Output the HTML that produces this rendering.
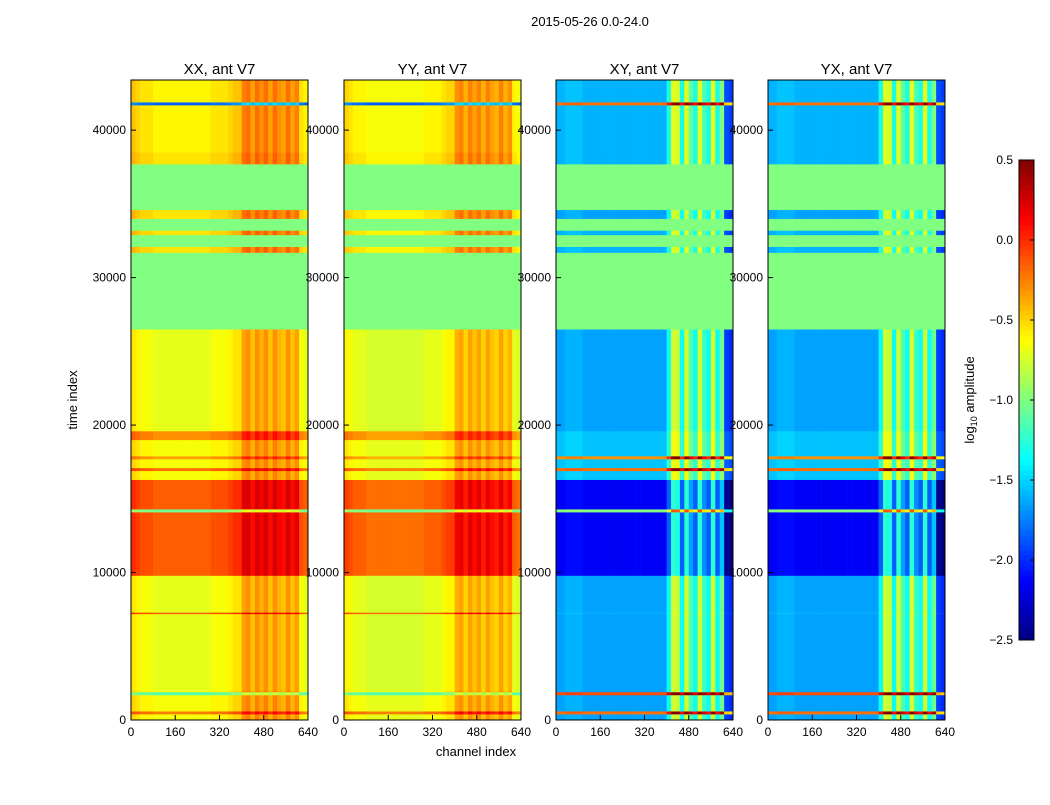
<!DOCTYPE html>
<html><head><meta charset="utf-8">
<style>
body{margin:0;background:#fff;}
svg text{font-family:"Liberation Sans",sans-serif;fill:#000;}
</style></head>
<body>
<svg id="fig" width="1050" height="800" viewBox="0 0 1050 800">
<rect width="1050" height="800" fill="#fff"/>
<text x="590" y="26" font-size="13" text-anchor="middle">2015-05-26 0.0-24.0</text>
<text x="476" y="756" font-size="13" text-anchor="middle">channel index</text>
<text transform="translate(77,400) rotate(-90)" font-size="13" text-anchor="middle">time index</text>
<text transform="translate(974,400) rotate(-90)" font-size="13" text-anchor="middle">log<tspan font-size="9" dy="3">10</tspan><tspan dy="-3"> amplitude</tspan></text>
<g id="panels"></g>
<g id="cbar"></g>
</svg>
<script>
// ---- data ----
const panelTitles = ["XX, ant V7","YY, ant V7","XY, ant V7","YX, ant V7"];
const segStart = [0,400,600,1700,1900,2000,7200,7300,9800,14100,14300,16300,16900,17100,17700,17900,19000,19600,26500,31700,32100,32900,33200,34000,34600,37700,38500,41700,41900];
const segEnd   = [400,600,1700,1900,2000,7200,7300,9800,14100,14300,16300,16900,17100,17700,17900,19000,19600,26500,31700,32100,32900,33200,34000,34600,37700,38500,41700,41900,43400];
const segFlagged=[0,0,0,0,0,0,0,0,0,0,0,0,0,0,0,0,0,0,1,0,1,0,1,0,1,0,0,0,0];
const xxVal = [-0.6,-0.2,-0.6,-1.1,-0.6,-0.65,-0.1,-0.65,-0.1,-1.0,-0.1,-0.6,-0.15,-0.6,-0.3,-0.6,-0.25,-0.65,-1.0,-0.5,-1.0,-0.5,-1.0,-0.5,-1.0,-0.5,-0.55,-1.8,-0.55];
const yyVal = [-0.65,-0.2,-0.65,-1.1,-0.65,-0.7,-0.15,-0.7,-0.15,-1.0,-0.15,-0.65,-0.2,-0.65,-0.35,-0.65,-0.3,-0.7,-1.0,-0.55,-1.0,-0.55,-1.0,-0.55,-1.0,-0.55,-0.6,-1.8,-0.6];
const xyVal = [-1.65,-0.2,-1.65,-0.1,-1.65,-1.65,-1.6,-1.65,-2.15,-1.0,-2.15,-1.55,-0.2,-1.55,-0.3,-1.55,-1.55,-1.65,-1.0,-1.6,-1.0,-1.6,-1.0,-1.65,-1.0,-1.6,-1.6,-0.2,-1.6];
const yxVal = [-1.65,-0.2,-1.65,-0.1,-1.65,-1.65,-1.6,-1.65,-2.15,-1.0,-2.15,-1.55,-0.2,-1.55,-0.3,-1.55,-1.55,-1.65,-1.0,-1.6,-1.0,-1.6,-1.0,-1.65,-1.0,-1.6,-1.6,-0.2,-1.6];
// channel profile per 16-channel bin (40 bins)
const coProfile = [0.1,0.05,0,0,0,-0.05,-0.05,-0.05,-0.05,-0.05,-0.05,-0.05,-0.05,-0.05,-0.05,-0.05,-0.05,-0.05,0,0,0,0,0.05,0.1,0.1,0.3,0.35,0.2,0.35,0.25,0.35,0.2,0.35,0.25,0.2,0.35,0.2,0.3,0,-0.05];
const crossProfile = [0,0,0.05,0.05,0.05,0.05,0,0,0,0,0,0,0,0,0,0,0,0,0,0,0,0,0,0,0,0.3,0.9,0.85,0.3,0.9,0.5,0.3,0.9,0.45,0.3,0.9,0.3,0.6,-0.3,-0.35];
const xTicks = [0,160,320,480,640];
const yTicks = [0,10000,20000,30000,40000];
const cbTicks = [0.5,0.0,-0.5,-1.0,-1.5,-2.0,-2.5];
// ---- layout ----
const panelX = [131,344,556,768], PW=177, Y0=720, Y1=80, TMAX=43400, CMAX=640;
const vmin=-2.5, vmax=0.5;
const NS="http://www.w3.org/2000/svg";
function jet(v){
  let t=(v-vmin)/(vmax-vmin); t=Math.max(0,Math.min(1,t));
  const f=x=>Math.round(255*Math.max(0,Math.min(1,x)));
  return `rgb(${f(1.5-Math.abs(4*t-3))},${f(1.5-Math.abs(4*t-2))},${f(1.5-Math.abs(4*t-1))})`;
}
function el(tag,attrs,parent){const e=document.createElementNS(NS,tag);for(const k in attrs)e.setAttribute(k,attrs[k]);parent.appendChild(e);return e;}
const panelsG=document.getElementById('panels');
const vals=[xxVal,yyVal,xyVal,yxVal];
const profs=[coProfile,coProfile,crossProfile,crossProfile];
panelTitles.forEach((title,p)=>{
  const x0=panelX[p];
  const xs=c=>x0+c/CMAX*PW;
  const ys=t=>Y0-t/TMAX*(Y0-Y1);
  const g=el('g',{},panelsG);
  
  
  const nb=profs[p].length, bw=CMAX/nb;
  for(let s=0;s<segStart.length;s++){
    for(let b=0;b<nb;b++){
      const v=segFlagged[s]?vals[p][s]:vals[p][s]+profs[p][b];
      const r=el('rect',{x:xs(b*bw),y:ys(segEnd[s]),width:xs((b+1)*bw)-xs(b*bw)+0.3,height:ys(segStart[s])-ys(segEnd[s])+0.3,fill:jet(v)},g);
      
      
    }
  }
  el('rect',{x:x0,y:Y1,width:PW,height:Y0-Y1,fill:'none',stroke:'#000','stroke-width':1},g);
  const t=el('text',{x:x0+PW/2,y:74,'font-size':15,'text-anchor':'middle'},g);
  t.textContent=title;
  
  
  xTicks.forEach(v=>{
    el('line',{x1:xs(v),x2:xs(v),y1:Y0,y2:Y0-5,stroke:'#000'},g);
    const tx=el('text',{x:xs(v),y:736,'font-size':12,'text-anchor':'middle'},g);
    tx.textContent=v;
    
    
  });
  yTicks.forEach(v=>{
    el('line',{x1:x0,x2:x0+5,y1:ys(v),y2:ys(v),stroke:'#000'},g);
    const ty=el('text',{x:x0-5,y:ys(v)+4,'font-size':12,'text-anchor':'end'},g);
    ty.textContent=v;
    
    
  });
});
// colorbar
const cb=document.getElementById('cbar');
const CBX=1019,CBW=15,CBT=160,CBB=640;
const cys=v=>CBB-(v-vmin)/(vmax-vmin)*(CBB-CBT);
for(let i=0;i<96;i++){
  const v=vmin+(i+0.5)*(vmax-vmin)/96;
  const r=el('rect',{x:CBX,y:cys(vmin+(i+1)*(vmax-vmin)/96),width:CBW,height:(CBB-CBT)/96+0.5,fill:jet(v)},cb);
  
  
}
el('rect',{x:CBX,y:CBT,width:CBW,height:CBB-CBT,fill:'none',stroke:'#000'},cb);
cbTicks.forEach(v=>{
  el('line',{x1:CBX+CBW-4,x2:CBX+CBW,y1:cys(v),y2:cys(v),stroke:'#000'},cb);
  const t=el('text',{x:CBX-6,y:cys(v)+4,'font-size':12,'text-anchor':'end'},cb);
  t.textContent=v.toFixed(1).replace('-','\u2212');
  
  
});
</script>
</body></html>
